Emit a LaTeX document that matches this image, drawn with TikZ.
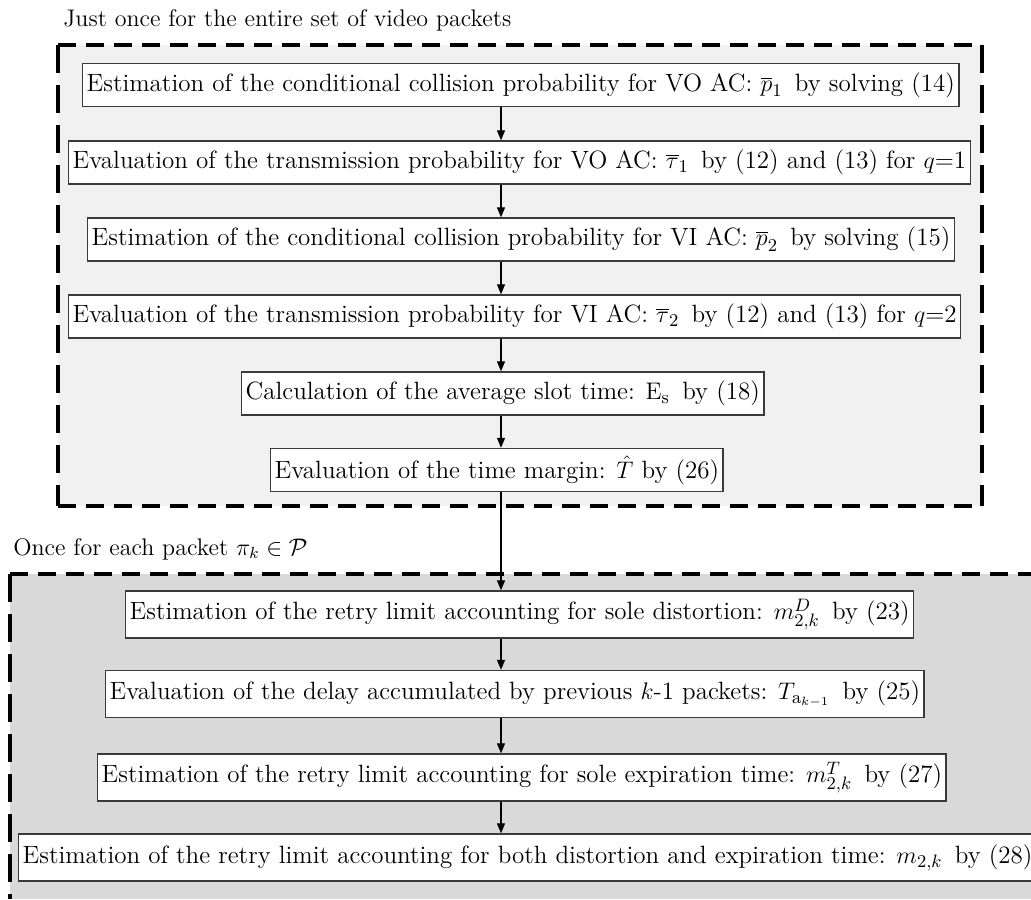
\documentclass[tikz,border=0pt]{standalone}
\usetikzlibrary{arrows.meta}
\definecolor{onceback}{HTML}{F1F1F1}
\definecolor{packetback}{HTML}{D9D9D9}
\definecolor{boxline}{HTML}{3A3A3A}
\begin{document}
\begin{tikzpicture}[x=0.5pt,y=-0.5pt,
        stepbox/.style={draw=boxline, line width=0.7pt, fill=white, anchor=west,
            minimum height=21.5pt, inner xsep=2pt, font=\fontsize{12.5}{14}\selectfont},
        tallbox/.style={stepbox, minimum height=23.5pt},
        flow/.style={-{Triangle[length=5pt,width=4pt]}, line width=0.6pt},
        hdash/.style={line width=2pt, dash pattern=on 9pt off 5pt},
        vdash/.style={line width=2pt, dash pattern=on 14pt off 6pt},
        grouplabel/.style={anchor=base west, inner sep=0pt, font=\fontsize{12}{14}\selectfont}]

        % Page size
        \path[use as bounding box] (0,0) rectangle (1031,899);

        % Background of the two groups
        \fill[onceback] (58,45) rectangle (982,506);
        \fill[packetback] (10,574) rectangle (1031,899);
        \draw[hdash] (58,45) -- (982,45);
        \draw[hdash] (58,506) -- (982,506);
        \draw[vdash] (58,45) -- (58,506);
        \draw[vdash] (982,45) -- (982,506);
        \draw[hdash] (10,574) -- (1031,574);
        \draw[vdash] (10,574) -- (10,899);

        % Group labels
        \node[grouplabel] (once) at (63,27) {Just once for the entire set of video packets};
        \node[grouplabel] (each) at (13,555) {Once for each packet $\pi_k\in\mathcal{P}$};

        % Steps done once
        \node[stepbox] (S1) at (82,85) {Estimation of the conditional collision probability for VO AC: $\overline{p}_{1}$\, by solving (14)};
        \node[stepbox] (S2) at (68,162.5) {Evaluation of the transmission probability for VO AC: $\overline{\tau}_{1}$\, by (12) and (13) for $q$=1};
        \node[stepbox] (S3) at (87,239.5) {Estimation of the conditional collision probability for VI AC: $\overline{p}_{2}$\, by solving (15)};
        \node[stepbox] (S4) at (68,316.5) {Evaluation of the transmission probability for VI AC: $\overline{\tau}_{2}$\, by (12) and (13) for $q$=2};
        \node[stepbox] (S5) at (241,393.5) {Calculation of the average slot time: $\mathrm{E}_{\mathrm{s}}$\, by (18)};
        \node[stepbox] (S6) at (270,470) {Evaluation of the time margin: $\hat{T}$ by (26)};

        % Steps done for each packet
        \node[tallbox] (P1) at (125,614.5) {Estimation of the retry limit accounting for sole distortion: $m_{2,k}^{D}$\, by (23)};
        \node[tallbox] (P2) at (105,694) {Evaluation of the delay accumulated by previous $k$-1 packets: $T_{\mathrm{a}_{k-1}}$\, by (25)};
        \node[tallbox] (P3) at (97,777.5) {Estimation of the retry limit accounting for sole expiration time: $m_{2,k}^{T}$\, by (27)};
        \node[tallbox] (P4) at (18,857.5) {Estimation of the retry limit accounting for both distortion and expiration time: $m_{2,k}$\, by (28)};

        % Arrows between consecutive steps
        \coordinate (ax) at (501,0);
        \foreach \a/\b in {S1/S2,S2/S3,S3/S4,S4/S5,S5/S6,S6/P1,P1/P2,P2/P3,P3/P4} {
            \draw[flow] (\a.south -| ax) -- (\b.north -| ax);
        }

\end{tikzpicture}
\end{document}
